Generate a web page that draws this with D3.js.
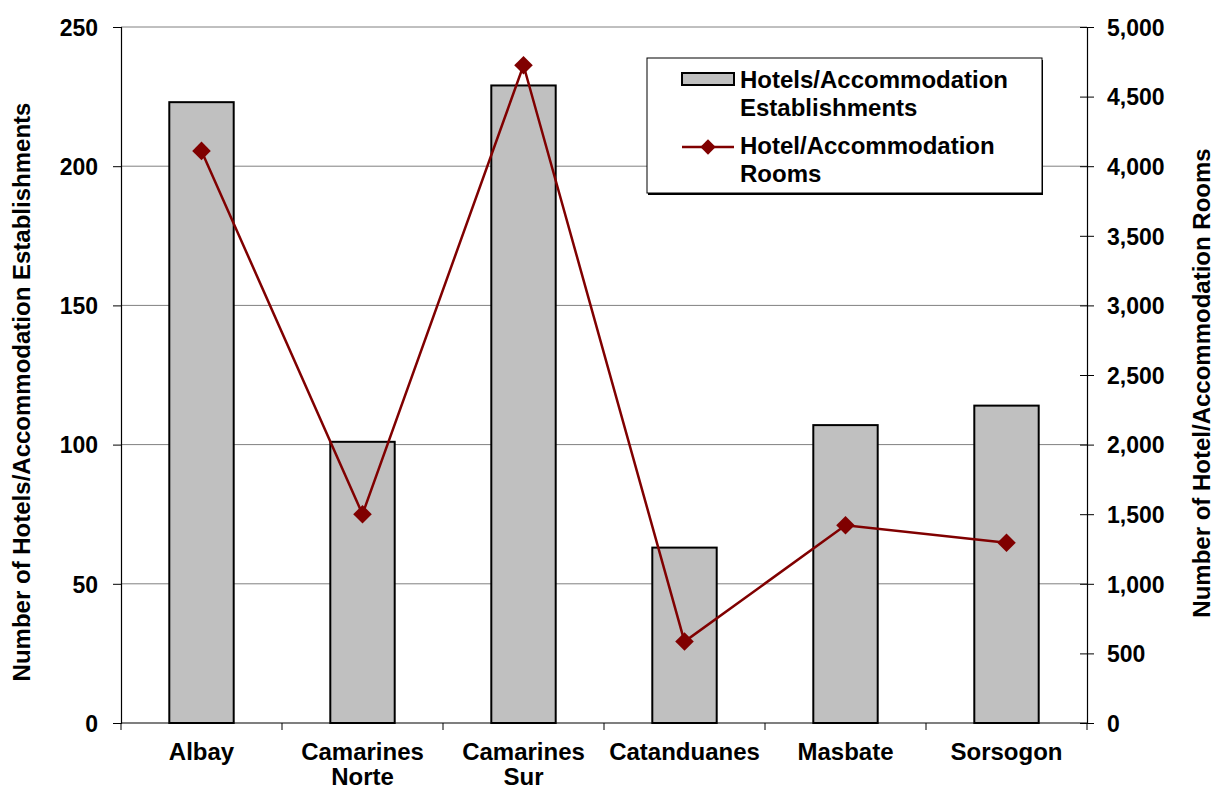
<!DOCTYPE html>
<html>
<head>
<meta charset="utf-8">
<script src="https://cdn.jsdelivr.net/npm/d3@7"></script>
<style>
  body { margin: 0; background: #fff; }
  text { font-family: "Liberation Sans", Arial, sans-serif; font-weight: bold; fill: #000; }
</style>
</head>
<body>
<div id="chart"></div>
<script>
const provinces = [["Albay"], ["Camarines", "Norte"], ["Camarines", "Sur"], ["Catanduanes"], ["Masbate"], ["Sorsogon"]];
const establishments = [223, 101, 229, 63, 107, 114];
const rooms = [4110, 1500, 4725, 585, 1420, 1295];
const leftTicks = [0, 50, 100, 150, 200, 250];
const rightTicks = [0, 500, 1000, 1500, 2000, 2500, 3000, 3500, 4000, 4500, 5000];

const width = 1215, height = 789;
const margin = { top: 27, right: 128, bottom: 66, left: 121 };
const innerW = width - margin.left - margin.right;
const innerH = height - margin.top - margin.bottom;

const svg = d3.select("#chart").append("svg")
  .attr("width", width)
  .attr("height", height);

const g = svg.append("g")
  .attr("transform", `translate(${margin.left},${margin.top})`);

const x = d3.scaleBand()
  .domain(d3.range(provinces.length))
  .range([0, innerW])
  .paddingInner(0.6)
  .paddingOuter(0.3);

const yLeft = d3.scaleLinear().domain([0, 250]).range([innerH, 0]);
const yRight = d3.scaleLinear().domain([0, 5000]).range([innerH, 0]);

// gridlines
g.selectAll(".grid")
  .data(leftTicks.filter(d => d > 0))
  .join("line")
  .attr("x1", 0)
  .attr("x2", innerW)
  .attr("y1", d => yLeft(d))
  .attr("y2", d => yLeft(d))
  .attr("stroke", "#808080")
  .attr("stroke-width", 1);

// bars
g.selectAll(".bar")
  .data(establishments)
  .join("rect")
  .attr("x", (d, i) => x(i))
  .attr("y", d => yLeft(d))
  .attr("width", x.bandwidth())
  .attr("height", d => innerH - yLeft(d))
  .attr("fill", "#c0c0c0")
  .attr("stroke", "#000")
  .attr("stroke-width", 2);

// left axis
const leftAxis = g.append("g")
  .call(d3.axisLeft(yLeft).tickValues(leftTicks).tickSize(8).tickPadding(15));
leftAxis.select(".domain").attr("stroke", "#000").attr("stroke-width", 1.2);
leftAxis.selectAll(".tick line").attr("stroke", "#000");
leftAxis.selectAll("text").style("font-size", "23px").attr("dy", "0.36em");

// right axis
const rightAxis = g.append("g")
  .attr("transform", `translate(${innerW},0)`)
  .call(d3.axisRight(yRight).tickValues(rightTicks).tickSize(7).tickPadding(13).tickFormat(d3.format(",")));
rightAxis.select(".domain").attr("stroke", "#000").attr("stroke-width", 1.2);
rightAxis.selectAll(".tick line").attr("stroke", "#000").attr("x1", -7);
rightAxis.selectAll("text").style("font-size", "23px").attr("dy", "0.36em");

// bottom axis
const xAxisG = g.append("g").attr("transform", `translate(0,${innerH})`);
xAxisG.append("line")
  .attr("x1", 0).attr("x2", innerW)
  .attr("stroke", "#000").attr("stroke-width", 1.2);
xAxisG.selectAll(".xtick")
  .data(d3.range(provinces.length + 1))
  .join("line")
  .attr("x1", i => i * innerW / provinces.length)
  .attr("x2", i => i * innerW / provinces.length)
  .attr("y1", 0)
  .attr("y2", 7)
  .attr("stroke", "#000");

xAxisG.selectAll(".xlabel")
  .data(provinces)
  .join("text")
  .attr("text-anchor", "middle")
  .attr("transform", (d, i) => `translate(${x(i) + x.bandwidth() / 2},0)`)
  .style("font-size", "24px")
  .selectAll("tspan")
  .data(d => d)
  .join("tspan")
  .attr("x", 0)
  .attr("y", (d, j) => 37 + j * 25)
  .text(d => d);

// line
const line = d3.line()
  .x((d, i) => x(i) + x.bandwidth() / 2)
  .y(d => yRight(d));

g.append("path")
  .datum(rooms)
  .attr("d", line)
  .attr("fill", "none")
  .attr("stroke", "#800000")
  .attr("stroke-width", 2.5);

g.selectAll(".marker")
  .data(rooms)
  .join("path")
  .attr("d", d3.symbol(d3.symbolDiamond2, 220))
  .attr("transform", (d, i) => `translate(${x(i) + x.bandwidth() / 2},${yRight(d)})`)
  .attr("fill", "#800000");

// axis titles
svg.append("text")
  .attr("transform", "translate(30,392) rotate(-90)")
  .attr("text-anchor", "middle")
  .style("font-size", "24px")
  .text("Number of Hotels/Accommodation Establishments");

svg.append("text")
  .attr("transform", "translate(1210,383) rotate(-90)")
  .attr("text-anchor", "middle")
  .style("font-size", "24px")
  .text("Number of Hotel/Accommodation Rooms");

// legend
const legend = svg.append("g").attr("transform", "translate(647,58)");
legend.append("rect")
  .attr("x", 1).attr("y", 2)
  .attr("width", 395).attr("height", 135)
  .attr("fill", "#000");
legend.append("rect")
  .attr("width", 395).attr("height", 135)
  .attr("fill", "#fff")
  .attr("stroke", "#000")
  .attr("stroke-width", 1);

legend.append("rect")
  .attr("x", 35).attr("y", 15)
  .attr("width", 52).attr("height", 12)
  .attr("fill", "#c0c0c0")
  .attr("stroke", "#000")
  .attr("stroke-width", 2);

legend.append("line")
  .attr("x1", 35).attr("x2", 87)
  .attr("y1", 89).attr("y2", 89)
  .attr("stroke", "#800000")
  .attr("stroke-width", 2.5);
legend.append("path")
  .attr("d", d3.symbol(d3.symbolDiamond2, 150))
  .attr("transform", "translate(61,89)")
  .attr("fill", "#800000");

const legendLabels = [["Hotels/Accommodation", "Establishments"], ["Hotel/Accommodation", "Rooms"]];
legend.selectAll(".ltext")
  .data(legendLabels)
  .join("text")
  .style("font-size", "24px")
  .selectAll("tspan")
  .data((d, i) => d.map((t, j) => ({ t, y: 30 + i * 66 + j * 28 })))
  .join("tspan")
  .attr("x", 93)
  .attr("y", d => d.y)
  .text(d => d.t);
</script>
</body>
</html>
